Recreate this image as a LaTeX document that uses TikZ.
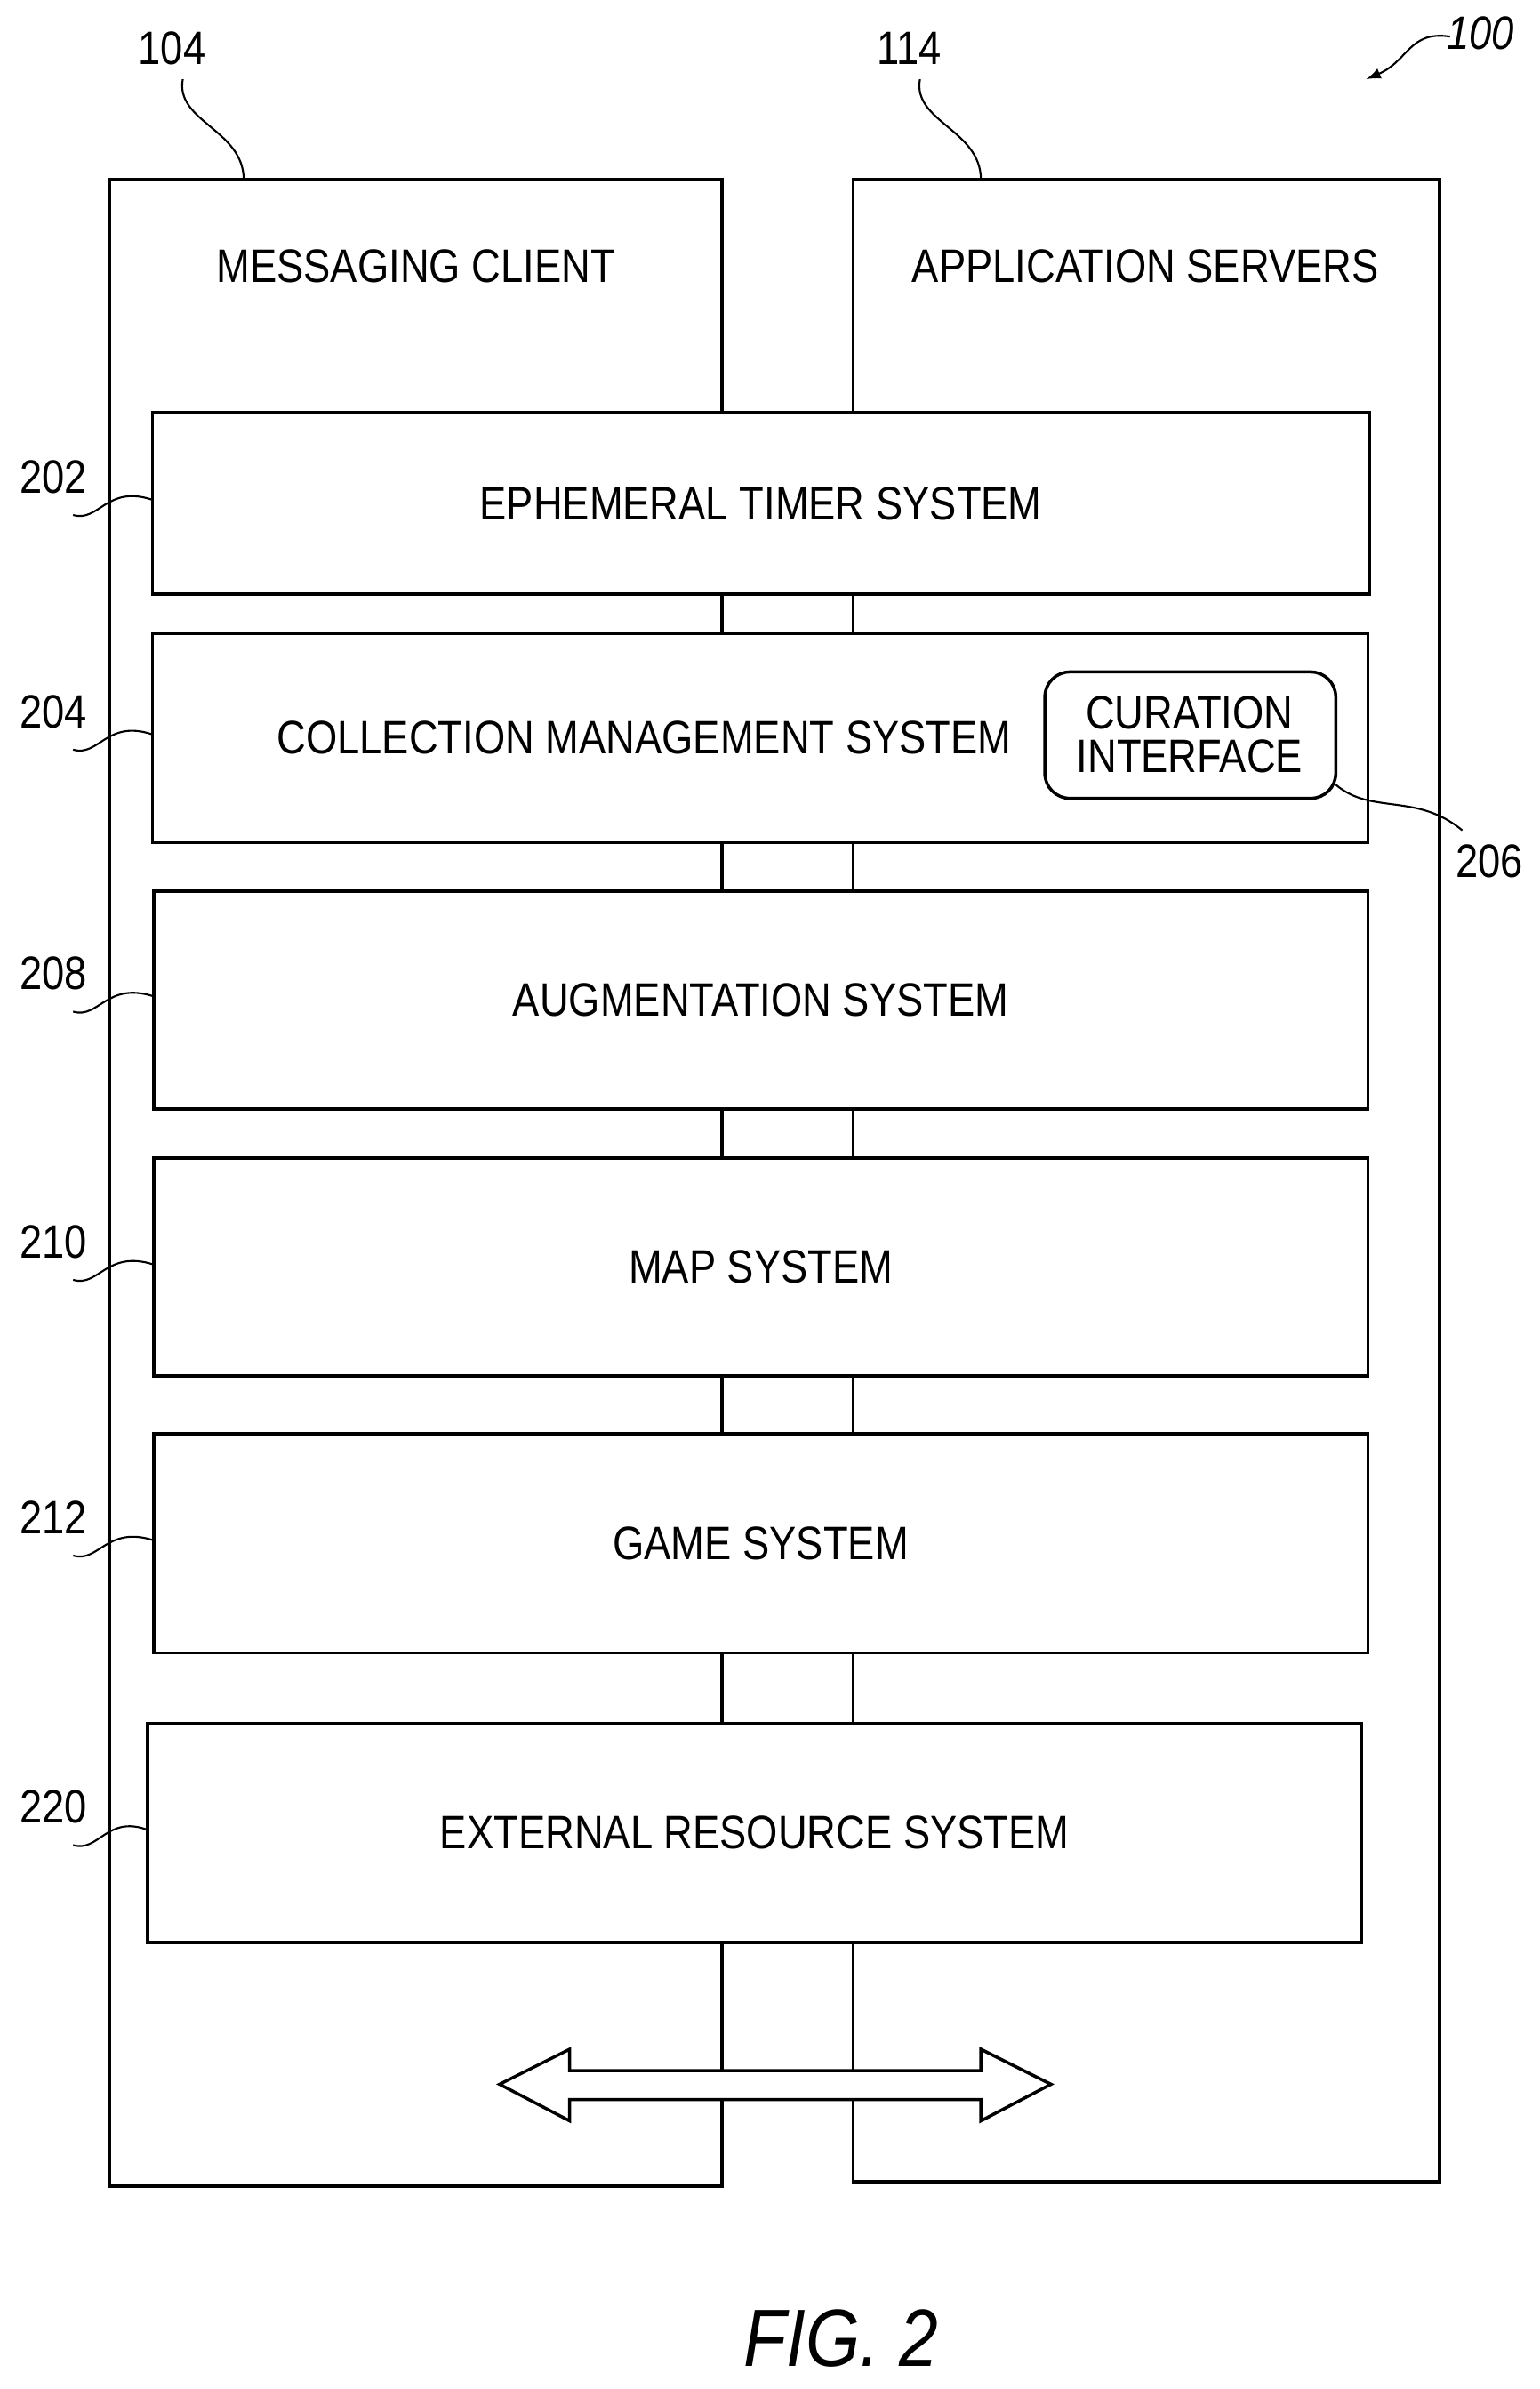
\documentclass[tikz,border=0pt]{standalone}
\usepackage{fontspec}
\setmainfont{Liberation Sans}[FakeStretch=0.86]
\begin{document}
\begin{tikzpicture}
[x=0.01713cm,y=-0.01713cm,line width=1pt,
sys/.style={draw,fill=white,font=\fontsize{15}{17}\selectfont},
ref/.style={font=\fontsize{15}{17}\selectfont},
lead/.style={line width=0.6pt}]
\useasboundingbox (0,0) rectangle (1011,1568);
%outer boxes
\draw (72,1435) -- (72,118) coordinate (mcT) -- (474,118) -- (474,1435) -- cycle;
\draw (560,1432) -- (560,118) -- (945,118) -- (945,1432) -- cycle;
\node[ref] (mc) at (273,175) {MESSAGING CLIENT};
\node[ref] (as) at (752,175) {APPLICATION SERVERS};
%inner systems
\foreach \n/\xa/\ya/\xb/\yb/\t in {202/100/271/899/390/EPHEMERAL TIMER SYSTEM,
  208/101/585/898/728/AUGMENTATION SYSTEM,
  210/101/760/898/903/MAP SYSTEM,
  212/101/941/898/1085/GAME SYSTEM,
  220/97/1131/894/1275/EXTERNAL RESOURCE SYSTEM}
{
  \draw[sys] (\xa,\ya) rectangle (\xb,\yb);
  \node[ref] (s\n) at ({(\xa+\xb)/2},{(\ya+\yb)/2}) {\t};
}
\draw[sys] (100,416) rectangle (898,553);
\node[ref] (s204) at (423,484) {COLLECTION MANAGEMENT SYSTEM};
\draw[sys,rounded corners=8pt] (686,441) rectangle (877,524);
\node[ref,align=center,inner sep=0pt] (s206) at (781,482) {CURATION\\[-3pt]INTERFACE};
%double arrow
\draw[fill=white,line width=1pt] (328,1368) -- (374,1345) -- (374,1359) -- (644,1359) -- (644,1345)
  -- (690,1368) -- (644,1392) -- (644,1378) -- (374,1378) -- (374,1392) -- cycle;
%reference numerals
\node[ref] (r104) at (113,32) {104};
\node[ref] (r114) at (597,32) {114};
\draw[lead] (120,52) .. controls (115,80) and (160,85) .. (160,118);
\draw[lead] (604,52) .. controls (599,80) and (644,85) .. (644,118);
\foreach \n/\y/\xb in {202/313/100,204/467/100,208/639/101,210/815/101,212/996/101,220/1186/97}
{
  \node[ref] (r\n) at (35,\y) {\n};
  \draw[lead] (48,\y+25) .. controls (65,\y+30) and (70,\y+5) .. (\xb,\y+15);
}
\node[ref] (r206) at (978,565) {206};
\draw[lead] (877,515) .. controls (900,535) and (930,520) .. (960,545);
\node[ref,font=\fontsize{15}{17}\selectfont\itshape] (r100) at (972,22) {100};
\draw[lead,-latex] (952,24) .. controls (925,20) and (925,40) .. (897,52);
\node[font=\fontsize{26}{30}\selectfont\itshape] (fig) at (552,1535) {FIG. 2};
\end{tikzpicture}
\end{document}
